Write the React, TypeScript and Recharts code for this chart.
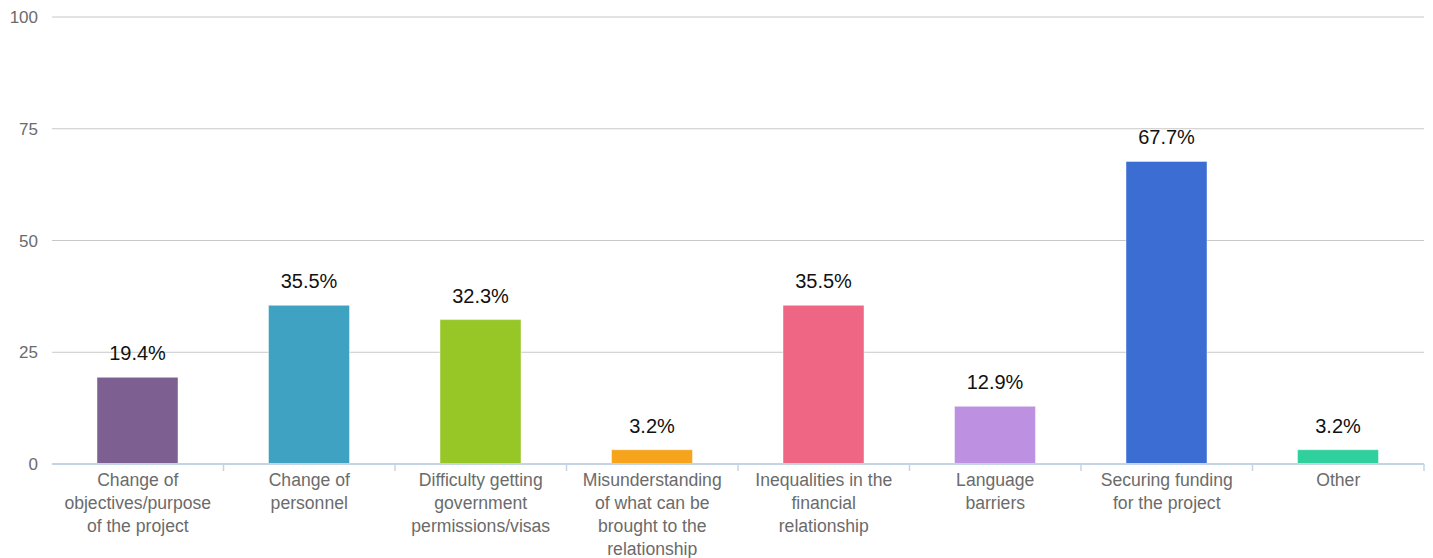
import { BarChart, Bar, XAxis, YAxis, CartesianGrid, Cell, LabelList } from 'recharts'

const categories = [
  ['Change of', 'objectives/purpose', 'of the project'],
  ['Change of', 'personnel'],
  ['Difficulty getting', 'government', 'permissions/visas'],
  ['Misunderstanding', 'of what can be', 'brought to the', 'relationship'],
  ['Inequalities in the', 'financial', 'relationship'],
  ['Language', 'barriers'],
  ['Securing funding', 'for the project'],
  ['Other'],
]
const values = [19.4, 35.5, 32.3, 3.2, 35.5, 12.9, 67.7, 3.2]
const colors = ['#7d6091', '#40a2c2', '#96c726', '#f5a41c', '#ef6584', '#bd90e1', '#3c6dd3', '#2fcf9e']
const yTicks = [0, 25, 50, 75, 100]

const W = 1433
const H = 558
const MARGIN = { top: 17, right: 9, bottom: 0, left: 0 }
const Y_AXIS_W = 52
const BAND = (W - MARGIN.left - MARGIN.right - Y_AXIS_W) / categories.length

const data = categories.map((lines, i) => ({
  name: lines.join(' '),
  lines,
  value: values[i],
}))

function CategoryTick(props: any) {
  const { x, y, index } = props
  const lines: string[] = data[index]?.lines ?? []
  return (
    <g>
      <line x1={x + BAND / 2} x2={x + BAND / 2} y1={y} y2={y + 7} stroke="#c4d4e4" strokeWidth={1.5} />
      <text x={x} y={y + 22} textAnchor="middle" fontSize={17.6} fill="#6b6b6b" fontFamily="'Liberation Sans', Arial, sans-serif">
        {lines.map((l, i) => (
          <tspan key={i} x={x} dy={i === 0 ? 0 : 23}>
            {l}
          </tspan>
        ))}
      </text>
    </g>
  )
}

export default function App() {
  return (
    <div style={{ position: 'absolute', left: 0, top: 0, background: '#fff' }}>
      <BarChart width={W} height={H} data={data} margin={MARGIN}>
        <CartesianGrid vertical={false} stroke="#c8c8c8" />
        <XAxis
          dataKey="name"
          height={94}
          interval={0}
          tickLine={false}
          tickSize={0}
          tickMargin={0}
          axisLine={{ stroke: '#c4d4e4', strokeWidth: 2 }}
          tick={<CategoryTick />}
        />
        <YAxis
          width={Y_AXIS_W}
          domain={[0, 100]}
          ticks={yTicks}
          axisLine={false}
          tickLine={false}
          tickSize={6}
          tickMargin={8}
          tick={{ fontSize: 17, fill: '#6b6b6b', fontFamily: "'Liberation Sans', Arial, sans-serif" }}
        />
        <Bar dataKey="value" barSize={81} isAnimationActive={false} stroke="#ffffff" strokeOpacity={0.45} strokeWidth={1}>
          {data.map((d, i) => (
            <Cell key={i} fill={colors[i]} />
          ))}
          <LabelList
            dataKey="value"
            position="top"
            offset={17}
            formatter={(v: any) => `${Number(v).toFixed(1)}%`}
            style={{ fontSize: 20, fill: '#111', fontFamily: "'Liberation Sans', Arial, sans-serif" }}
          />
        </Bar>
      </BarChart>
    </div>
  )
}
